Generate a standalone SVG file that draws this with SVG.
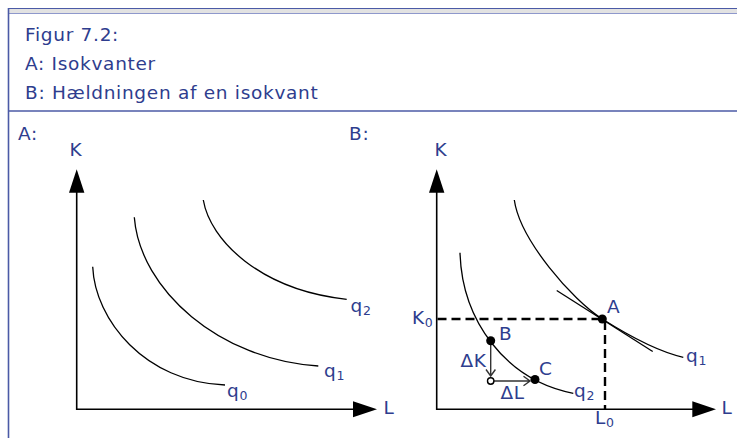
<svg xmlns="http://www.w3.org/2000/svg" width="737" height="438" viewBox="0 0 737 438">
<style>
text{font-family:"DejaVu Sans","Liberation Sans",sans-serif;font-size:18.5px;letter-spacing:0.7px;fill:#2e3d8e}
.sub{font-size:12.5px;letter-spacing:0}
.curve{fill:none;stroke:#000;stroke-width:1.3}
.axis{fill:none;stroke:#000;stroke-width:1.6}
.head{fill:#000}
.dash{fill:none;stroke:#000;stroke-width:2.4;stroke-dasharray:9 5}
.small{fill:none;stroke:#333;stroke-width:1.4}
.dot{fill:#000}
</style>
<rect x="0" y="0" width="737" height="438" fill="#fff"/>
<g id="frame">
<rect x="8" y="8" width="729" height="6" fill="#e2e2e2"/>
<line x1="8" y1="8.5" x2="737" y2="8.5" stroke="#4b5aa6" stroke-width="1.2"/>
<line x1="8" y1="13.5" x2="737" y2="13.5" stroke="#8e98cc" stroke-width="1.2"/>
<line x1="8.5" y1="8" x2="8.5" y2="438" stroke="#4b5aa6" stroke-width="1.6"/>
<line x1="8" y1="111" x2="737" y2="111" stroke="#4b5aa6" stroke-width="1.4"/>
</g>
<g id="title">
<text x="25" y="41">Figur 7.2:</text>
<text x="25" y="70">A: Isokvanter</text>
<text x="25" y="98.5">B: Hældningen af en isokvant</text>
</g>
<g id="panelA">
<text x="18" y="140">A:</text>
<text x="69.5" y="156">K</text>
<text x="383.5" y="414">L</text>
<g id="axesA">
<path class="axis" d="M76.7,192 V409.3 H354"/>
<path class="head" d="M76.7,169.3 L69,192.7 L84.4,192.7 Z"/>
<path class="head" d="M377,409.3 L353,401.3 L353,417.3 Z"/>
</g>
<g id="q0A"><path class="curve" d="M92.7,266.7 C95,320 145,382 225,385"/><text x="227" y="397">q<tspan class="sub" dy="3">0</tspan></text></g>
<g id="q1A"><path class="curve" d="M134.3,217.3 C140,290 220,360 318.3,366"/><text x="324" y="377">q<tspan class="sub" dy="3">1</tspan></text></g>
<g id="q2A"><path class="curve" d="M203.3,200 C210,240 260,290 346.7,299.3"/><text x="350.5" y="311.5">q<tspan class="sub" dy="3">2</tspan></text></g>
</g>
<g id="panelB">
<text x="349" y="140">B:</text>
<text x="434.5" y="156">K</text>
<text x="721.5" y="414">L</text>
<g id="axesB">
<path class="axis" d="M436.7,192 V409.3 H693"/>
<path class="head" d="M436.7,169.3 L429,192.7 L444.4,192.7 Z"/>
<path class="head" d="M716,409.3 L692.3,401.3 L692.3,417.3 Z"/>
</g>
<g id="connectors">
<path class="dash" d="M437.5,319 H602.3"/>
<path class="dash" d="M605,321 V409"/>
<path class="small" d="M490.7,342 V376 M486,369.5 L490.7,376 L495.4,369.5"/>
<path class="small" d="M494,381 H530 M523.5,376.3 L530,381 L523.5,385.7"/>
</g>
<g id="q1B">
<path class="curve" d="M514.3,200 C520,240 572.3,300 602.3,319 C632.3,338 660,352 683.3,357.3"/>
<text x="686" y="362">q<tspan class="sub" dy="3">1</tspan></text>
</g>
<g id="tangent"><line class="curve" x1="556.7" y1="290.5" x2="652.7" y2="351.5"/></g>
<g id="q2B">
<path class="curve" d="M460,252.7 C462,320 505,380 573.3,393.3"/>
<text x="574" y="397">q<tspan class="sub" dy="3">2</tspan></text>
</g>
<g id="pointA"><circle class="dot" cx="602.3" cy="319" r="4.5"/><text x="607" y="313">A</text></g>
<g id="pointB"><circle class="dot" cx="490.7" cy="340.7" r="4.5"/><text x="499" y="340">B</text></g>
<g id="pointC"><circle class="dot" cx="535" cy="379.5" r="4.5"/><text x="539" y="375">C</text></g>
<g id="pointO"><circle cx="490.7" cy="381" r="3.2" fill="#fff" stroke="#000" stroke-width="1.4"/></g>
<text x="460.5" y="367">ΔK</text>
<text x="500.5" y="399">ΔL</text>
<text x="412" y="324">K<tspan class="sub" dy="3">0</tspan></text>
<text x="595" y="424">L<tspan class="sub" dy="3">0</tspan></text>
</g>
</svg>
